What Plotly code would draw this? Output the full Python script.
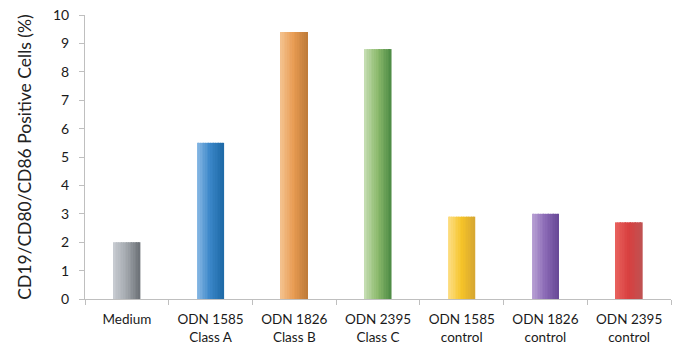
import plotly.graph_objects as go

categories = ["Medium", "ODN 1585<br>Class A", "ODN 1826<br>Class B", "ODN 2395<br>Class C",
              "ODN 1585<br>control", "ODN 1826<br>control", "ODN 2395<br>control"]
values = [2.0, 5.5, 9.4, 8.8, 2.9, 3.0, 2.7]
y_title = "CD19/CD80/CD86 Positive Cells (%)"
y_ticks = list(range(0, 11))

# gradient colour stops per bar: (left, middle, right)
bar_colors = [
    ("#c9cdd3", "#a3a8ae", "#6c7176"),
    ("#8cbbe6", "#3a86c8", "#1d69a6"),
    ("#f4c390", "#e89b52", "#bd7a38"),
    ("#c8dfb6", "#8cba6c", "#4c8a44"),
    ("#fde08c", "#f6c428", "#d6a632"),
    ("#bba4d6", "#8b6ab6", "#674896"),
    ("#e8625e", "#d83f3f", "#bf5252"),
]

def hex2rgb(h):
    h = h.lstrip("#")
    return [int(h[i:i + 2], 16) for i in (0, 2, 4)]

def interp(stops, t):
    if t <= 0.5:
        a, b, u = hex2rgb(stops[0]), hex2rgb(stops[1]), t / 0.5
    else:
        a, b, u = hex2rgb(stops[1]), hex2rgb(stops[2]), (t - 0.5) / 0.5
    c = [round(a[k] + (b[k] - a[k]) * u) for k in range(3)]
    return f"rgb({c[0]},{c[1]},{c[2]})"

fig = go.Figure()
BAR_W = 0.32
N = 16
slice_w = BAR_W / N
for i in range(N):
    t = (i + 0.5) / N
    fig.add_trace(go.Bar(
        x=categories, y=values,
        width=slice_w * 1.08,
        offset=-BAR_W / 2 + i * slice_w,
        marker=dict(color=[interp(s, t) for s in bar_colors], line=dict(width=0)),
        showlegend=False, hoverinfo="skip" if i else "x+y",
    ))

axis_col = "#bfbfbf"
fig.update_layout(
    barmode="overlay",
    width=677, height=345,
    margin=dict(l=85, r=6, t=13, b=46),
    paper_bgcolor="white", plot_bgcolor="white",
    font=dict(family="Lato, sans-serif", color="#1a1a1a"),
    xaxis=dict(
        showline=True, linecolor=axis_col, linewidth=1, automargin=False,
        ticks="outside", tickson="boundaries", ticklen=5, tickcolor=axis_col,
        tickfont=dict(size=13.5), showgrid=False, ticklabelstandoff=8,
    ),
    yaxis=dict(
        range=[0, 10], tickvals=y_ticks, showline=True, linecolor=axis_col, linewidth=1,
        ticks="outside", ticklen=5, tickcolor=axis_col, tickfont=dict(size=14),
        showgrid=False, zeroline=False, ticklabelstandoff=7, automargin=True,
        title=dict(text=y_title, font=dict(size=17.5, color="#222222"), standoff=16),
    ),
)
fig.write_html("out.html")
